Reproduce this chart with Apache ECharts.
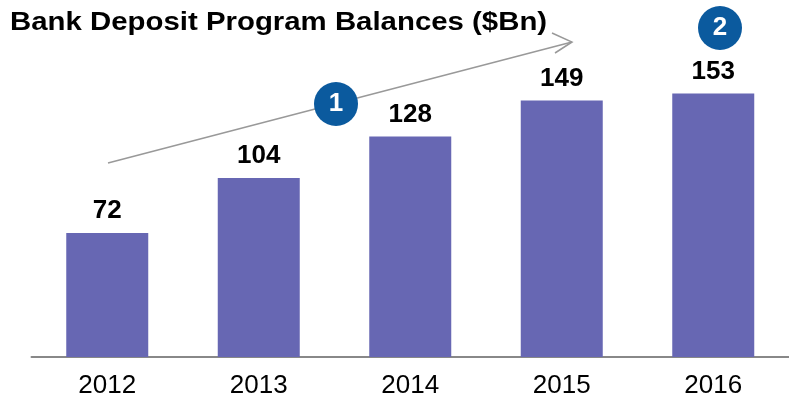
<!DOCTYPE html>
<html>
<head>
<meta charset="utf-8">
<script src="https://cdn.jsdelivr.net/npm/echarts@6/dist/echarts.min.js"></script>
<style>
html,body{margin:0;padding:0;background:#fff;}
#chart{width:789px;height:403px;}
</style>
</head>
<body>
<div id="chart"></div>
<script>
var categories = ['2012', '2013', '2014', '2015', '2016'];
var balances = [72, 104, 128, 149, 153];
var titleText = 'Bank Deposit Program Balances ($Bn)';

var chart = echarts.init(document.getElementById('chart'), null, {renderer: 'canvas'});
var FONT = '"Liberation Sans", Arial, sans-serif';
var option = {
  animation: false,
  grid: {left: 31.5, top: 47, width: 765, bottom: 46, containLabel: false},
  xAxis: {
    type: 'category',
    data: categories,
    axisLine: {show: true, lineStyle: {color: '#888', width: 2}},
    axisTick: {show: false},
    axisLabel: {fontFamily: FONT, fontSize: 26, color: '#000', margin: 16}
  },
  yAxis: {
    type: 'value', min: 0, max: 180,
    show: false,
    splitLine: {show: false}
  },
  series: [{
    type: 'bar',
    data: balances,
    barWidth: 82,
    itemStyle: {color: '#6767b3'},
    label: {
      show: true, position: 'top', distance: 9,
      fontFamily: FONT, fontWeight: 'bold', fontSize: 26, color: '#000'
    }
  }],
  graphic: [
    {type: 'text', x: 10, y: 10, scaleX: 1.13, style: {text: titleText, fill: '#000', font: 'bold 26px ' + FONT}},
    {type: 'line', shape: {x1: 108, y1: 163, x2: 572, y2: 42}, style: {stroke: '#999', lineWidth: 1.5}},
    {type: 'polyline', shape: {points: [[552, 33], [572, 42], [555, 53]]}, style: {stroke: '#999', lineWidth: 1.5, fill: null}},
    {type: 'circle', shape: {cx: 336, cy: 104, r: 22}, style: {fill: '#0b5a9e'}},
    {type: 'text', x: 336, y: 104, style: {text: '1', fill: '#fff', font: 'bold 26px ' + FONT, align: 'center', verticalAlign: 'middle'}},
    {type: 'circle', shape: {cx: 720, cy: 28, r: 22}, style: {fill: '#0b5a9e'}},
    {type: 'text', x: 720, y: 28, style: {text: '2', fill: '#fff', font: 'bold 26px ' + FONT, align: 'center', verticalAlign: 'middle'}}
  ]
};
chart.setOption(option);
</script>
</body>
</html>
